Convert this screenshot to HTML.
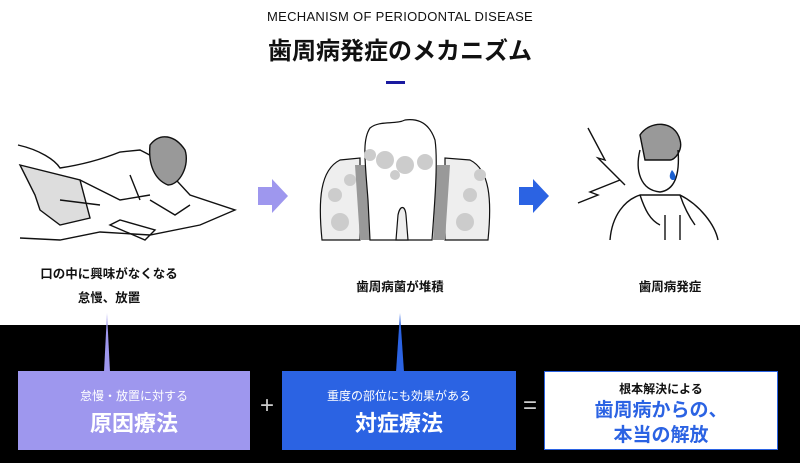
<!DOCTYPE html>
<html><head><meta charset="utf-8"><style>
body{margin:0;width:800px;height:463px;background:#fff;position:relative;overflow:hidden;font-family:"Liberation Sans","Noto Sans CJK JP",sans-serif;color:#111}
.a{position:absolute}
.c{text-align:center}
</style></head><body>
<div class="a c" style="left:0;width:800px;top:9px;font-size:13px;letter-spacing:0.3px">MECHANISM OF PERIODONTAL DISEASE</div>
<div class="a c" style="left:0;width:800px;top:31px;font-size:24px;font-weight:bold">歯周病発症のメカニズム</div>
<div class="a" style="left:386px;top:81px;width:19px;height:3px;background:#1a1aa0"></div>

<svg class="a" style="left:0;top:110px" width="800" height="140" viewBox="0 110 800 140">
<g fill="none" stroke="#111" stroke-width="1.4">
<path d="M18 145 C40 150 55 160 60 168 C80 165 100 160 120 152 L140 150 C150 155 160 160 165 168 L190 195 L235 210 L200 225 L150 235 L100 232 L60 240 L20 238" />
<path d="M20 165 L35 195 L40 210 L60 225 L90 218 L80 180 Z" fill="#ddd"/>
<path d="M80 180 L120 200 L150 195 M60 200 L100 205 M130 175 L140 200"/>
<path d="M150 145 C160 132 175 135 185 150 C190 165 180 185 168 185 C155 180 148 165 150 145Z" fill="#999"/>
<path d="M110 225 L145 240 L155 230 L120 220Z"/>
<path d="M150 200 L175 215 L190 205"/>
</g>
<g stroke="#111" stroke-width="1.2">
<path d="M322 240 C318 200 320 170 340 160 L360 158 L360 240Z" fill="#eee"/>
<path d="M488 240 C492 200 490 170 470 160 L445 158 L445 240Z" fill="#eee"/>
</g>
<g fill="#ccc"><circle cx="335" cy="195" r="7"/><circle cx="340" cy="222" r="9"/><circle cx="350" cy="180" r="6"/><circle cx="470" cy="195" r="7"/><circle cx="465" cy="222" r="9"/><circle cx="480" cy="175" r="6"/></g>
<path d="M355 165 L368 165 L370 240 L360 240Z M450 165 L437 165 L433 240 L445 240Z" fill="#999"/>
<g stroke="#111" stroke-width="1.2">
<path d="M370 240 L368 200 C365 160 362 140 370 128 C380 120 395 125 405 120 C420 118 430 125 435 140 C438 160 435 200 432 240Z" fill="#fff"/>
<path d="M396 240 L398 215 C400 205 405 205 406 215 L408 240Z" fill="#eee"/>
</g>
<g fill="#ccc"><circle cx="385" cy="160" r="9"/><circle cx="405" cy="165" r="9"/><circle cx="425" cy="162" r="8"/><circle cx="370" cy="155" r="6"/><circle cx="395" cy="175" r="5"/></g>
<polygon points="258,187 272,187 272,179 288,196 272,213 272,205 258,205" fill="#9e97ee"/>
<polygon points="519,187 533,187 533,179 549,196 533,213 533,205 519,205" fill="#2b63e3"/>
<g fill="none" stroke="#111" stroke-width="1.4">
<path d="M588 128 L605 160 L598 158 L625 185"/>
<path d="M620 180 L590 192 L598 195 L578 203"/>
<path d="M640 135 C650 120 675 120 680 140 C683 150 675 160 670 160 L645 160Z" fill="#999"/>
<path d="M640 150 C635 170 640 190 660 192 C675 190 680 175 678 150"/>
<path d="M610 240 C612 215 625 200 640 195 L680 195 C700 205 715 225 718 240"/>
<path d="M640 195 C645 210 650 220 660 225 M680 195 C685 210 690 218 695 225"/>
<path d="M665 215 L665 240 M680 215 L680 240"/>
</g>
<path d="M672 170 C668 176 670 180 673 180 C676 180 677 176 672 170Z" fill="#1a60d0"/>
</svg>

<div class="a c" style="left:18px;width:182px;top:262px;font-size:12.5px;line-height:24px;font-weight:bold">口の中に興味がなくなる<br>怠慢、放置</div>
<div class="a c" style="left:300px;width:200px;top:276px;font-size:12.5px;font-weight:bold">歯周病菌が堆積</div>
<div class="a c" style="left:570px;width:200px;top:276px;font-size:12.5px;font-weight:bold">歯周病発症</div>

<div class="a" style="left:0;top:325px;width:800px;height:138px;background:#000"></div>
<svg class="a" style="left:0;top:310px" width="800" height="65">
<polygon points="104,62 107,3 110,62" fill="#9e97ee"/>
<polygon points="396,62 400,3 404,62" fill="#2b63e3"/>
</svg>
<div class="a c" style="left:18px;top:371px;width:232px;height:79px;background:#9e97ee;color:#fff">
<div style="font-size:12px;margin-top:16px">怠慢・放置に対する</div>
<div style="font-size:22px;font-weight:bold;margin-top:2px">原因療法</div></div>
<div class="a c" style="left:252px;width:30px;top:392px;color:#ccc;font-size:24px">+</div>
<div class="a c" style="left:282px;top:371px;width:234px;height:79px;background:#2b63e3;color:#fff">
<div style="font-size:12px;margin-top:16px">重度の部位にも効果がある</div>
<div style="font-size:22px;font-weight:bold;margin-top:2px">対症療法</div></div>
<div class="a c" style="left:516px;width:28px;top:392px;color:#ccc;font-size:24px">=</div>
<div class="a c" style="left:544px;top:371px;width:232px;height:77px;background:#fff;border:1px solid #2b63e3">
<div style="font-size:12px;margin-top:8px;font-weight:bold">根本解決による</div>
<div style="font-size:19px;font-weight:bold;color:#2b63e3;line-height:25px;margin-top:1px">歯周病からの、<br>本当の解放</div></div>
</body></html>
